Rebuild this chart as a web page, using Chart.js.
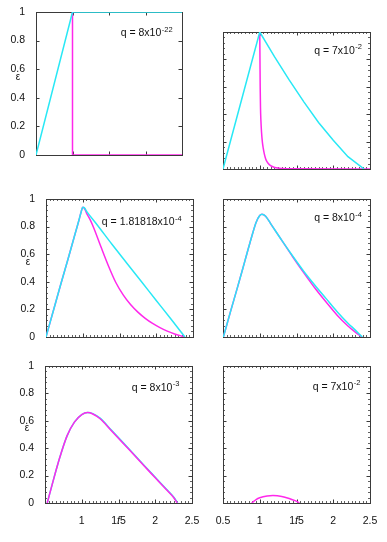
<!DOCTYPE html>
<html>
<head>
<meta charset="utf-8">
<script src="https://cdn.jsdelivr.net/npm/chart.js@4.4.1/dist/chart.umd.min.js"></script>
<style>
  html, body { margin: 0; padding: 0; background: #fff; }
  body { width: 387px; height: 542px; position: relative; overflow: hidden; }
  canvas { position: absolute; }
</style>
</head>
<body>
<script>
// axis ticks and labels
const fTicks = [0.5, 1, 1.5, 2, 2.5];
const epsTicks = [0, 0.2, 0.4, 0.6, 0.8, 1];
const qText = ['8x10', '7x10', '1.81818x10', '8x10', '8x10', '7x10'];
const qExp = ['-22', '-2', '-4', '-4', '-3', '-2'];

// panel 1
const f1Cyan = [0.5, 1, 2.5];
const e1Cyan = [0, 1, 1];
const f1Mag = [1, 1, 2.5];
const e1Mag = [1, 0, 0];

// panel 2
const f2Cyan = [0.5, 1, 1.2, 1.4, 1.6, 1.8, 2.0, 2.2, 2.42];
const e2Cyan = [0, 1, 0.82, 0.65, 0.49, 0.34, 0.21, 0.09, 0];
const f2Mag = [1, 1.003, 1.006, 1.01, 1.016, 1.024, 1.035, 1.048, 1.062, 1.08, 1.1, 1.13, 1.17, 1.22, 1.3, 1.45, 2.5];
const e2Mag = [1, 0.8, 0.6, 0.45, 0.35, 0.27, 0.2, 0.15, 0.11, 0.075, 0.052, 0.032, 0.018, 0.009, 0.004, 0.001, 0];

// panel 3
const f3Cyan = [0.5, 0.6, 0.7, 0.8, 0.9, 0.95, 0.98, 1.0, 1.02, 1.06, 1.2, 1.4, 1.6, 1.8, 2.0, 2.2, 2.39];
const e3Cyan = [0, 0.19, 0.38, 0.565, 0.755, 0.85, 0.91, 0.94, 0.937, 0.905, 0.81, 0.67, 0.535, 0.4, 0.265, 0.13, 0];
const f3Mag = [0.5, 0.6, 0.7, 0.8, 0.9, 0.95, 0.98, 1.0, 1.02, 1.05, 1.1, 1.15, 1.25, 1.35, 1.45, 1.55, 1.65, 1.75, 1.85, 1.95, 2.05, 2.15, 2.25, 2.35, 2.39];
const e3Mag = [0, 0.19, 0.38, 0.565, 0.755, 0.85, 0.91, 0.94, 0.935, 0.9, 0.85, 0.79, 0.65, 0.515, 0.395, 0.305, 0.235, 0.18, 0.135, 0.098, 0.068, 0.043, 0.022, 0.006, 0];

// panel 4
const f4Cyan = [0.505, 0.6, 0.7, 0.8, 0.9, 0.95, 1.0, 1.03, 1.08, 1.15, 1.3, 1.45, 1.6, 1.75, 1.9, 2.05, 2.2, 2.3, 2.395];
const e4Cyan = [0, 0.18, 0.365, 0.555, 0.745, 0.83, 0.88, 0.89, 0.875, 0.82, 0.7, 0.585, 0.475, 0.375, 0.28, 0.185, 0.1, 0.05, 0];
const f4Mag = [0.505, 0.6, 0.7, 0.8, 0.9, 0.95, 1.0, 1.03, 1.08, 1.15, 1.3, 1.45, 1.6, 1.75, 1.9, 2.05, 2.2, 2.3, 2.39];
const e4Mag = [0, 0.18, 0.365, 0.555, 0.745, 0.83, 0.88, 0.89, 0.875, 0.82, 0.7, 0.58, 0.465, 0.355, 0.255, 0.16, 0.08, 0.035, 0];

// panel 5
const f5Cyan = [0.53, 0.6, 0.7, 0.8, 0.9, 1.0, 1.08, 1.15, 1.25, 1.4, 1.55, 1.7, 1.85, 2.0, 2.15, 2.25, 2.305];
const e5Cyan = [0, 0.14, 0.33, 0.49, 0.59, 0.645, 0.66, 0.652, 0.619, 0.534, 0.448, 0.361, 0.274, 0.188, 0.102, 0.044, 0];
const f5Mag = [0.53, 0.6, 0.7, 0.8, 0.9, 1.0, 1.08, 1.15, 1.25, 1.4, 1.55, 1.7, 1.85, 2.0, 2.15, 2.25, 2.3];
const e5Mag = [0, 0.14, 0.33, 0.49, 0.59, 0.645, 0.66, 0.65, 0.615, 0.53, 0.444, 0.357, 0.27, 0.184, 0.098, 0.04, 0];

// panel 6
const f6Mag = [0.89, 0.95, 1.0, 1.1, 1.18, 1.3, 1.4, 1.48, 1.54];
const e6Mag = [0, 0.025, 0.038, 0.051, 0.054, 0.048, 0.033, 0.017, 0];

const CYAN = 'rgb(40,232,245)';
const MAGENTA = 'rgb(255,40,235)';
const INK = '#111';
const FONT = '"Liberation Sans", Arial, sans-serif';
const PAD_L = 36, PAD_T = 8, PAD_R = 8, PAD_B = 36;

// smooth: [cyan, magenta] use monotone curves
const panels = [
  { box: [36, 12, 146, 143], yLab: true, xLab: false, minor: false, smooth: [false, false], magTop: false, q: [1.66, 0.832],
    cyan: [f1Cyan, e1Cyan], mag: [f1Mag, e1Mag] },
  { box: [223, 32, 147, 137], yLab: false, xLab: false, minor: true, smooth: [false, true], magTop: false, q: [1.74, 0.84],
    cyan: [f2Cyan, e2Cyan], mag: [f2Mag, e2Mag] },
  { box: [46, 199, 147, 138], yLab: true, xLab: false, minor: true, smooth: [true, true], magTop: false, q: [1.26, 0.81],
    cyan: [f3Cyan, e3Cyan], mag: [f3Mag, e3Mag] },
  { box: [223, 199, 147, 138], yLab: false, xLab: false, minor: true, smooth: [true, true], magTop: false, q: [1.74, 0.838],
    cyan: [f4Cyan, e4Cyan], mag: [f4Mag, e4Mag] },
  { box: [45, 366, 147, 137], yLab: true, xLab: true, minor: true, smooth: [true, true], magTop: true, q: [1.68, 0.82], hideFirstX: true,
    cyan: [f5Cyan, e5Cyan], mag: [f5Mag, e5Mag] },
  { box: [223, 366, 147, 137], yLab: false, xLab: true, minor: true, smooth: [true, true], magTop: true, q: [1.72, 0.825],
    cyan: null, mag: [f6Mag, e6Mag] },
];

const pts = (fs, es) => fs.map((f, i) => ({ x: f, y: es[i] }));

const framePlugin = {
  id: 'frame',
  beforeDatasetsDraw(chart, args, opts) {
    const { ctx, chartArea: a, scales: { x, y } } = chart;
    ctx.save();
    ctx.strokeStyle = '#3a3a3a';
    ctx.lineWidth = 1;
    ctx.strokeRect(a.left + 0.5, a.top + 0.5, a.width, a.height);
    const seg = (x0, y0, x1, y1) => { ctx.beginPath(); ctx.moveTo(x0, y0); ctx.lineTo(x1, y1); ctx.stroke(); };
    const xTick = (v, len) => {
      const p = Math.round(x.getPixelForValue(v)) + 0.5;
      seg(p, a.bottom, p, a.bottom - len);
      seg(p, a.top, p, a.top + len);
    };
    const yTick = (v, len) => {
      const p = Math.round(y.getPixelForValue(v)) + 0.5;
      seg(a.left, p, a.left + len, p);
      seg(a.right, p, a.right - len, p);
    };
    if (opts.minor) {
      ctx.lineWidth = 0.8;
      for (let i = 1; i < 40; i++) if (i % 10) xTick(0.5 + i * 0.05, 2);
      for (let i = 1; i < 25; i++) if (i % 5) yTick(i * 0.04, 2);
      ctx.lineWidth = 1;
    }
    fTicks.forEach(v => xTick(v, 3.5));
    epsTicks.forEach(v => yTick(v, 3.5));
    ctx.restore();
  },
  afterDraw(chart, args, opts) {
    const { ctx, chartArea: a, scales: { x, y } } = chart;
    ctx.save();
    ctx.fillStyle = INK;
    ctx.textBaseline = 'alphabetic';
    ctx.textAlign = 'left';
    const tx = x.getPixelForValue(opts.q[0]);
    const ty = y.getPixelForValue(opts.q[1]);
    const main = 'q = ' + opts.text;
    ctx.font = '10.5px ' + FONT;
    ctx.fillText(main, tx, ty);
    const w = ctx.measureText(main).width;
    ctx.font = '7.5px ' + FONT;
    ctx.fillText(opts.exp, tx + w + 0.5, ty - 4.5);
    if (opts.yLab) {
      ctx.font = '10px ' + FONT;
      ctx.textAlign = 'center';
      ctx.textBaseline = 'middle';
      ctx.fillText('\u03B5', a.left - 18, (a.top + a.bottom) / 2 - 6);
    }
    ctx.restore();
  }
};

panels.forEach((p, k) => {
  const [left, top, w, h] = p.box;
  const canvas = document.createElement('canvas');
  canvas.width = w + PAD_L + PAD_R;
  canvas.height = h + PAD_T + PAD_B;
  canvas.style.left = (left - PAD_L) + 'px';
  canvas.style.top = (top - PAD_T) + 'px';
  document.body.appendChild(canvas);

  const line = (data, color, smooth) => ({
    data, borderColor: color, borderWidth: 1.5, pointRadius: 0, showLine: true, fill: false,
    tension: 0, cubicInterpolationMode: smooth ? 'monotone' : 'default'
  });
  const cyanSet = p.cyan ? line(pts(p.cyan[0], p.cyan[1]), CYAN, p.smooth[0]) : null;
  const magSet = line(pts(p.mag[0], p.mag[1]), MAGENTA, p.smooth[1]);
  // first dataset is drawn on top
  const datasets = (p.magTop ? [magSet, cyanSet] : [cyanSet, magSet]).filter(Boolean);

  new Chart(canvas, {
    type: 'scatter',
    data: { datasets },
    options: {
      responsive: false,
      animation: false,
      devicePixelRatio: 1,
      layout: { padding: { top: PAD_T, right: PAD_R, left: 0, bottom: 0 } },
      plugins: {
        legend: { display: false },
        tooltip: { enabled: false },
        frame: { minor: p.minor, q: p.q, text: qText[k], exp: qExp[k], yLab: p.yLab }
      },
      scales: {
        x: {
          type: 'linear', min: 0.5, max: 2.5,
          grid: { display: false }, border: { display: false },
          ticks: {
            display: p.xLab, stepSize: 0.5, padding: 4, color: INK, maxRotation: 0,
            font: { family: FONT, size: 10.5 },
            callback: v => (p.hideFirstX && v === 0.5) ? '' : String(+v.toFixed(1))
          },
          title: {
            display: p.xLab, text: 'f', color: INK,
            font: { family: FONT, size: 10.5, style: 'italic' },
            padding: { top: 0, bottom: 11.7 }
          },
          afterFit: s => { s.height = PAD_B; s.paddingLeft = 0; s.paddingRight = 0; }
        },
        y: {
          type: 'linear', min: 0, max: 1,
          grid: { display: false }, border: { display: false },
          ticks: {
            display: p.yLab, stepSize: 0.2, padding: 3, color: INK,
            font: { family: FONT, size: 10.5 },
            callback: v => String(+v.toFixed(1))
          },
          afterFit: s => { s.width = PAD_L; s.paddingTop = 0; s.paddingBottom = 0; }
        }
      }
    },
    plugins: [framePlugin]
  });
});
</script>
</body>
</html>
